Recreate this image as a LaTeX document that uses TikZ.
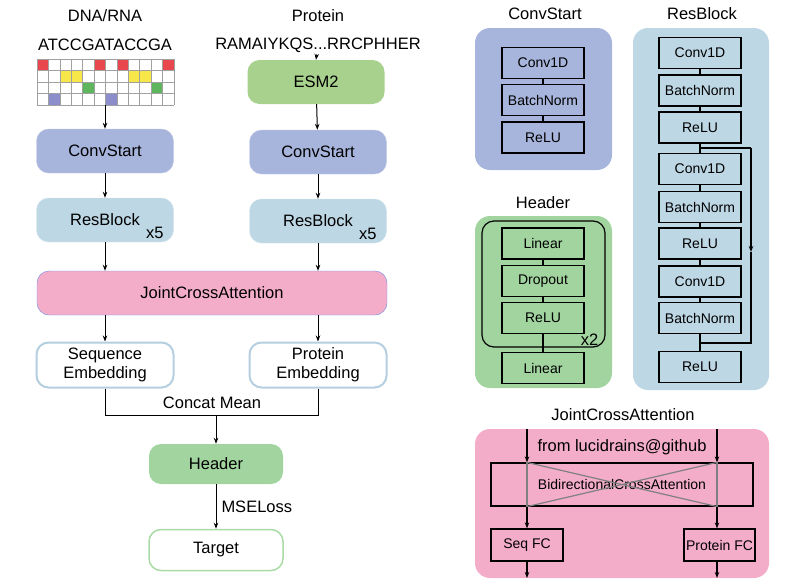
\documentclass[tikz,border=0pt]{standalone}
\usepackage{fontspec}
\setmainfont{Liberation Sans}
\usetikzlibrary{arrows.meta}
\definecolor{convblue}{HTML}{A7B5DD}
\definecolor{resblue}{HTML}{BDD7E5}
\definecolor{jcapink}{HTML}{F4ADC8}
\definecolor{jcaborder}{HTML}{6E8EF0}
\definecolor{esmgreen}{HTML}{A9D18E}
\definecolor{headgreen}{HTML}{A1D49F}
\definecolor{embblue}{HTML}{B6CFE0}
\definecolor{targetgreen}{HTML}{A9DBA7}
\definecolor{gridred}{HTML}{E8474D}
\definecolor{gridyellow}{HTML}{F7E749}
\definecolor{gridgreen}{HTML}{5DB55C}
\definecolor{gridpurple}{HTML}{8C8ECB}
\definecolor{gridline}{HTML}{A0A0A0}
\definecolor{crossgray}{HTML}{808080}
\tikzset{
  >={Stealth[length=6pt,width=4.5pt]},
  block/.style={rounded corners=12pt, minimum width=137pt, minimum height=44pt, inner sep=0pt, font=\fontsize{16.5}{19}\selectfont},
  panel/.style={rounded corners=15pt, inner sep=0pt},
  layer/.style={draw, line width=1.2pt, minimum width=82pt, minimum height=31pt, inner sep=0pt, font=\fontsize{14}{16}\selectfont},
  title/.style={font=\fontsize{16.5}{19}\selectfont, inner sep=2pt},
  flow/.style={->, line width=1pt},
  link/.style={line width=1.2pt},
}
\begin{document}
\begin{tikzpicture}[x=1pt,y=-1pt]
\useasboundingbox (0,0) rectangle (798,584);
% inputs
\node[title] (dnat) at (105,16) {DNA/RNA};
\node[title] (prot) at (318,16) {Protein};
\node[title] (dseq) at (105,45) {ATCCGATACCGA};
\node[title] (pseq) at (318,45) {RAMAIYKQS...RRCPHHER};
% one-hot grid
\foreach \i/\r/\col in {0/0/gridred,5/0/gridred,7/0/gridred,11/0/gridred,2/1/gridyellow,3/1/gridyellow,8/1/gridyellow,9/1/gridyellow,4/2/gridgreen,10/2/gridgreen,1/3/gridpurple,6/3/gridpurple}
  \fill[\col] (37+\i*11.42,59+\r*11.5) rectangle ++(11.42,11.5);
\foreach \i in {0,...,12}
  \draw[gridline, line width=0.6pt] (37+\i*11.42,59) -- ++(0,46);
\foreach \r in {0,...,4}
  \draw[gridline, line width=0.6pt] (37,59+\r*11.5) -- ++(137,0);
\coordinate (grid) at (105,105);
% left pipeline
\node[block, fill=esmgreen] (esm) at (316,82) {ESM2};
\node[block, fill=convblue, draw=convblue!70!white] (cs1) at (105,151) {ConvStart};
\node[block, fill=convblue, draw=convblue!70!white] (cs2) at (318,152) {ConvStart};
\node[block, fill=resblue, draw=resblue!70!white] (rb1) at (105,220) {ResBlock};
\node[block, fill=resblue, draw=resblue!70!white] (rb2) at (318,221) {ResBlock};
\node[title, anchor=south east, inner sep=0pt, xshift=-10pt, yshift=3pt] at (rb1.south east) {x5};
\node[title, anchor=south east, inner sep=0pt, xshift=-10pt, yshift=3pt] at (rb2.south east) {x5};
\node[block, fill=jcapink, draw=jcaborder, minimum width=350pt] (jca) at (212,293) {JointCrossAttention};
\node[block, fill=white, draw=embblue, line width=2pt, align=center, minimum height=45pt] (se) at (105,365) {Sequence\\Embedding};
\node[block, fill=white, draw=embblue, line width=2pt, align=center, minimum height=45pt] (pe) at (318,365) {Protein\\Embedding};
\node[block, fill=headgreen, minimum width=134pt, minimum height=40pt] (hd) at (216,464) {Header};
\node[block, fill=white, draw=targetgreen, line width=1.5pt, minimum width=134pt, minimum height=41pt] (tg) at (216,550) {Target};
\coordinate (join) at (216,415);
\node[title] (cmean) at (212,403) {Concat Mean};

\draw[flow] (grid) -- (cs1);
\draw[flow] (pseq) -- (esm.north);
\draw[flow] (esm) -- (cs2);
\draw[flow] (cs1) -- (rb1);
\draw[flow] (cs2) -- (rb2);
\draw[flow] (rb1) -- (rb1 |- jca.north);
\draw[flow] (rb2) -- (rb2 |- jca.north);
\draw[flow] (se |- jca.south) -- (se);
\draw[flow] (pe |- jca.south) -- (pe);
\draw[link, line width=1pt] (se.south) -- (se.south |- join) -- (pe.south |- join) -- (pe.south);
\draw[flow] (join) -- (hd);
\draw[flow] (hd) -- node[title, right, inner sep=5pt] {MSELoss} (tg);

% ConvStart panel
\node[title] at (545,14) {ConvStart};
\node[panel, fill=convblue, minimum width=137pt, minimum height=142pt] (csp) at (543.5,99) {};
\node[layer] (c1) at (543,63) {Conv1D};
\node[layer] (c2) at (543,100) {BatchNorm};
\node[layer] (c3) at (543,137.5) {ReLU};
\draw[link] (c1) -- (c2);
\draw[link] (c2) -- (c3);

% ResBlock panel
\node[title] at (702,14) {ResBlock};
\node[panel, fill=resblue, minimum width=136pt, minimum height=362pt] (rbp) at (701,209) {};
\node[layer] (r1) at (700,53) {Conv1D};
\node[layer] (r2) at (700,90.5) {BatchNorm};
\node[layer] (r3) at (700,127.5) {ReLU};
\node[layer] (r4) at (700,169) {Conv1D};
\node[layer] (r5) at (700,207) {BatchNorm};
\node[layer] (r6) at (700,243.5) {ReLU};
\node[layer] (r7) at (700,281.5) {Conv1D};
\node[layer] (r8) at (700,318) {BatchNorm};
\node[layer] (r9) at (700,367) {ReLU};
\foreach \a/\b in {r1/r2,r2/r3,r3/r4,r4/r5,r5/r6,r6/r7,r7/r8,r8/r9}
  \draw[link] (\a) -- (\b);
\coordinate (skipA) at (700,148);
\coordinate (skipB) at (751,148);
\coordinate (skipM) at (751,252);
\coordinate (skipC) at (751,343);
\coordinate (skipD) at (700,343);
\draw[link] (skipA) -- (skipB);
\draw[flow, line width=1.2pt] (skipB) -- (skipM);
\draw[link] (skipM) -- (skipC) -- (skipD);

% Header panel
\node[title] at (543,203) {Header};
\node[panel, fill=headgreen, minimum width=137pt, minimum height=172pt] (hdp) at (543.5,302) {};
\node[draw, line width=1.2pt, rounded corners=12pt, minimum width=123pt, minimum height=126pt, inner sep=0pt] (loop) at (543.5,284) {};
\node[layer] (h1) at (543,243.5) {Linear};
\node[layer] (h2) at (543,281) {Dropout};
\node[layer] (h3) at (543,318) {ReLU};
\node[layer] (h4) at (543,368) {Linear};
\draw[link] (h1) -- (h2);
\draw[link] (h2) -- (h3);
\draw[link] (h3) -- (h4);
\node[title, anchor=south east, inner sep=0pt, xshift=-7pt, yshift=2pt] at (loop.south east) {x2};

% JointCrossAttention panel
\node[title] at (623,415) {JointCrossAttention};
\node[panel, fill=jcapink, minimum width=294pt, minimum height=149pt] (jcp) at (622,503.5) {};
\node[title] (src) at (622,447) {from lucidrains@github};
\node[layer, minimum width=262pt, minimum height=43pt] (bca) at (622,484.5) {BidirectionalCrossAttention};
\node[layer, minimum width=72pt, minimum height=32pt] (sfc) at (527,545) {Seq FC};
\node[layer, minimum width=71pt, minimum height=32pt] (pfc) at (719.5,545) {Protein FC};
\coordinate (inA) at (527,429);
\coordinate (inB) at (717,429);
\coordinate (outA) at (527,578);
\coordinate (outB) at (717,578);
\draw[flow, line width=1.2pt] (inA) -- (inA |- bca.north);
\draw[flow, line width=1.2pt] (inB) -- (inB |- bca.north);
\draw[crossgray, line width=1.2pt] (inA |- bca.north) -- (inA |- bca.south);
\draw[crossgray, line width=1.2pt] (inB |- bca.north) -- (inB |- bca.south);
\draw[crossgray, line width=1.2pt] (inA |- bca.north) -- (inB |- bca.south);
\draw[crossgray, line width=1.2pt] (inB |- bca.north) -- (inA |- bca.south);
\draw[flow, line width=1.2pt] (inA |- bca.south) -- (sfc);
\draw[flow, line width=1.2pt] (inB |- bca.south) -- (inB |- pfc.north);
\draw[flow, line width=1.2pt] (sfc) -- (outA);
\draw[flow, line width=1.2pt] (inB |- pfc.south) -- (outB);
\end{tikzpicture}
\end{document}
